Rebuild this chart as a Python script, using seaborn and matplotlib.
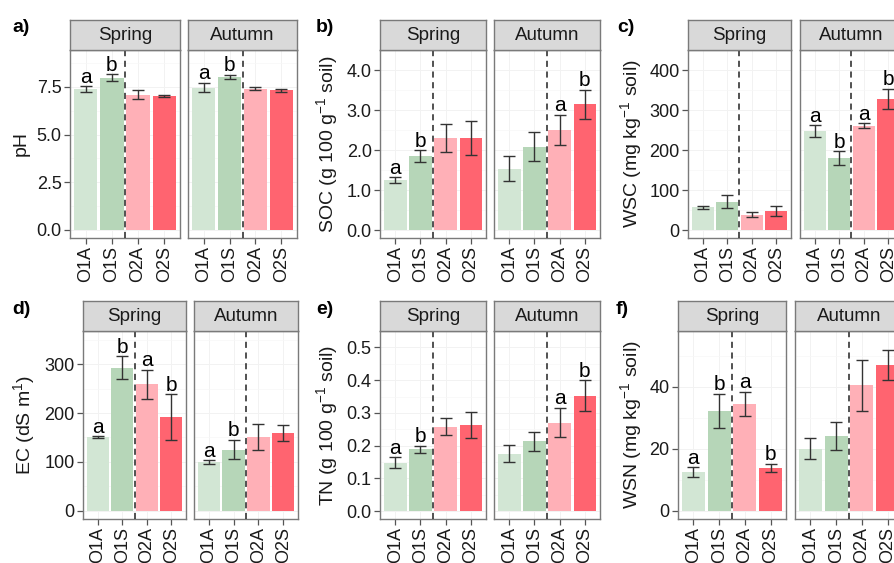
import numpy as np
import pandas as pd
import matplotlib
matplotlib.use("Agg")
import matplotlib.pyplot as plt
import seaborn as sns

# ---------------- data ----------------
treatments = ["O1A", "O1S", "O2A", "O2S"]
seasons = ["Spring", "Autumn"]
colors = ["#d2e6d4", "#b6d6b8", "#ffb0b7", "#ff6470"]

ph_spring = [7.38, 7.99, 7.10, 7.02]
ph_spring_se = [0.15, 0.18, 0.25, 0.04]
ph_autumn = [7.47, 8.04, 7.41, 7.34]
ph_autumn_se = [0.25, 0.10, 0.09, 0.08]
ph_spring_letters = ["a", "b", "", ""]
ph_autumn_letters = ["a", "b", "", ""]

soc_spring = [1.25, 1.85, 2.30, 2.31]
soc_spring_se = [0.07, 0.15, 0.35, 0.42]
soc_autumn = [1.54, 2.09, 2.50, 3.15]
soc_autumn_se = [0.31, 0.37, 0.38, 0.36]
soc_spring_letters = ["a", "b", "", ""]
soc_autumn_letters = ["", "", "a", "b"]

wsc_spring = [57.6, 71.6, 38.9, 47.5]
wsc_spring_se = [4.0, 16.0, 6.0, 12.5]
wsc_autumn = [248.0, 181.0, 261.5, 328.0]
wsc_autumn_se = [14.0, 17.0, 6.0, 26.0]
wsc_spring_letters = ["", "", "", ""]
wsc_autumn_letters = ["a", "b", "a", "b"]

ec_spring = [150.0, 292.5, 259.0, 191.0]
ec_spring_se = [2.0, 23.5, 30.0, 47.0]
ec_autumn = [99.5, 125.0, 150.7, 159.5]
ec_autumn_se = [4.0, 20.0, 27.0, 16.0]
ec_spring_letters = ["a", "b", "a", "b"]
ec_autumn_letters = ["a", "b", "", ""]

tn_spring = [0.148, 0.189, 0.258, 0.263]
tn_spring_se = [0.016, 0.011, 0.025, 0.041]
tn_autumn = [0.175, 0.214, 0.270, 0.352]
tn_autumn_se = [0.026, 0.029, 0.045, 0.047]
tn_spring_letters = ["a", "b", "", ""]
tn_autumn_letters = ["", "", "a", "b"]

wsn_spring = [12.5, 32.3, 34.6, 13.9]
wsn_spring_se = [1.6, 5.5, 3.9, 1.3]
wsn_autumn = [20.1, 24.2, 40.5, 47.2]
wsn_autumn_se = [3.5, 4.5, 8.3, 4.8]
wsn_spring_letters = ["a", "b", "a", "b"]
wsn_autumn_letters = ["", "", "", ""]

ylabels = ["pH",
           r"SOC (g 100 g$^{-1}$ soil)",
           r"WSC (mg kg$^{-1}$ soil)",
           r"EC (dS m$^{1}$)",
           r"TN (g 100 g$^{-1}$ soil)",
           r"WSN (mg kg$^{-1}$ soil)"]
panel_tags = ["a)", "b)", "c)", "d)", "e)", "f)"]
yticks_list = [[0, 2.5, 5.0, 7.5], [0, 1, 2, 3, 4], [0, 100, 200, 300, 400],
               [0, 100, 200, 300], [0, 0.1, 0.2, 0.3, 0.4, 0.5], [0, 20, 40]]
ytick_fmt = ["{:.1f}", "{:.1f}", "{:.0f}", "{:.0f}", "{:.1f}", "{:.0f}"]

panels = [
    (ph_spring, ph_spring_se, ph_spring_letters, ph_autumn, ph_autumn_se, ph_autumn_letters),
    (soc_spring, soc_spring_se, soc_spring_letters, soc_autumn, soc_autumn_se, soc_autumn_letters),
    (wsc_spring, wsc_spring_se, wsc_spring_letters, wsc_autumn, wsc_autumn_se, wsc_autumn_letters),
    (ec_spring, ec_spring_se, ec_spring_letters, ec_autumn, ec_autumn_se, ec_autumn_letters),
    (tn_spring, tn_spring_se, tn_spring_letters, tn_autumn, tn_autumn_se, tn_autumn_letters),
    (wsn_spring, wsn_spring_se, wsn_spring_letters, wsn_autumn, wsn_autumn_se, wsn_autumn_letters),
]

# ---------------- layout (pixels) ----------------
W, H = 894, 563
ylims = [(-0.42, 9.44), (-0.19, 4.2), (-18.7, 420.5), (-17, 368), (-0.024, 0.527), (-2.7, 58.1)]
facet_x = [[(70, 180), (188, 297)], [(380, 486), (494, 600)], [(688, 791), (800, 903)],
           [(83, 186), (194, 298)], [(380, 486), (494, 600)], [(678, 786), (795, 903)]]
row_y = [(20, 50, 238), (301, 331, 519)]
ylabel_x = [21, 327, 631, 24, 327, 631]
tag_xy = [(12, 28), (316, 28), (617, 28), (12, 309), (316, 309), (616, 309)]

sns.set_theme(style="white")
plt.rcParams["font.family"] = ["Liberation Sans", "DejaVu Sans"]
plt.rcParams["mathtext.fontset"] = "custom"
plt.rcParams["mathtext.rm"] = "Liberation Sans"
plt.rcParams["mathtext.it"] = "Liberation Sans:italic"
plt.rcParams["mathtext.bf"] = "Liberation Sans:bold"

FS = 13
FS_STRIP = 13.5
FS_LAB = 14
FS_LET = 15
BORDER = "#7a7a7a"
TXT = "#1a1a1a"
palette = dict(zip(treatments, colors))

fig = plt.figure(figsize=(W / 100, H / 100), dpi=100)
fig.patch.set_facecolor("white")


def rect(x0, y0, x1, y1):
    return [x0 / W, 1 - y1 / H, (x1 - x0) / W, (y1 - y0) / H]


for p in range(6):
    row = p // 3
    ys0, yp0, yp1 = row_y[row]
    data = panels[p]
    for f in range(2):
        vals, ses, lets = data[3 * f], data[3 * f + 1], data[3 * f + 2]
        x0, x1 = facet_x[p][f]
        ax = fig.add_axes(rect(x0, yp0, x1, yp1))
        df = pd.DataFrame({"treatment": treatments, "value": vals})
        sns.barplot(data=df, x="treatment", y="value", hue="treatment",
                    palette=palette, order=treatments, hue_order=treatments,
                    width=0.9, saturation=1, errorbar=None, legend=False,
                    linewidth=0, ax=ax, zorder=2)
        xs = np.arange(len(treatments))
        ax.errorbar(xs, vals, yerr=ses, fmt="none", ecolor="#333333",
                    elinewidth=1.0, capsize=4.5, capthick=1.0, zorder=3)
        for xi, v, s, l in zip(xs, vals, ses, lets):
            if l:
                ax.annotate(l, (xi, v + s), xytext=(0, 2.5), textcoords="offset points",
                            ha="center", va="baseline", fontsize=FS_LET, color="black", zorder=4)
        ax.axvline(1.5, color="#222222", ls=(0, (4, 3)), lw=1.1, zorder=3)
        ax.set_xlim(-0.6, 3.6)
        ax.set_ylim(*ylims[p])
        ax.set_xlabel("")
        ax.set_ylabel("")
        ax.set_xticks(xs)
        ax.set_xticklabels(treatments, rotation=90, fontsize=FS, color=TXT)
        yt = yticks_list[p]
        ax.set_yticks(yt)
        ax.set_yticks([(a + b) / 2 for a, b in zip(yt[:-1], yt[1:])] +
                      [yt[-1] + (yt[1] - yt[0]) / 2], minor=True)
        ax.grid(True, which="major", color="#f2f2f2", lw=0.7, zorder=0)
        ax.grid(True, which="minor", axis="y", color="#f7f7f7", lw=0.5, zorder=0)
        ax.set_axisbelow(True)
        ax.tick_params(axis="x", which="major", length=4, width=0.9, color="#555555",
                       direction="out", bottom=True, pad=2)
        ax.tick_params(axis="y", which="minor", length=0)
        if f == 0:
            ax.set_yticklabels([ytick_fmt[p].format(t) for t in yt], fontsize=FS, color=TXT)
            ax.tick_params(axis="y", which="major", length=4, width=0.9, color="#555555",
                           direction="out", left=True, pad=2)
        else:
            ax.set_yticklabels([])
            ax.tick_params(axis="y", which="major", length=0, left=False)
        for sp in ax.spines.values():
            sp.set_color(BORDER)
            sp.set_linewidth(1.0)
        ax.set_facecolor("white")

        sax = fig.add_axes(rect(x0, ys0, x1, yp0))
        sax.set_facecolor("#d9d9d9")
        sax.set_xticks([])
        sax.set_yticks([])
        for sp in sax.spines.values():
            sp.set_color(BORDER)
            sp.set_linewidth(1.0)
        sax.text(0.5, 0.47, seasons[f], ha="center", va="center", fontsize=FS_STRIP,
                 color=TXT, transform=sax.transAxes)

    fig.text(ylabel_x[p] / W, 1 - ((yp0 + yp1) / 2) / H, ylabels[p], rotation=90,
             ha="center", va="center", fontsize=FS_LAB, color=TXT)
    fig.text(tag_xy[p][0] / W, 1 - tag_xy[p][1] / H, panel_tags[p], ha="left",
             va="center", fontsize=14, fontweight="bold", color="black")

fig.savefig("out.png", dpi=100)
